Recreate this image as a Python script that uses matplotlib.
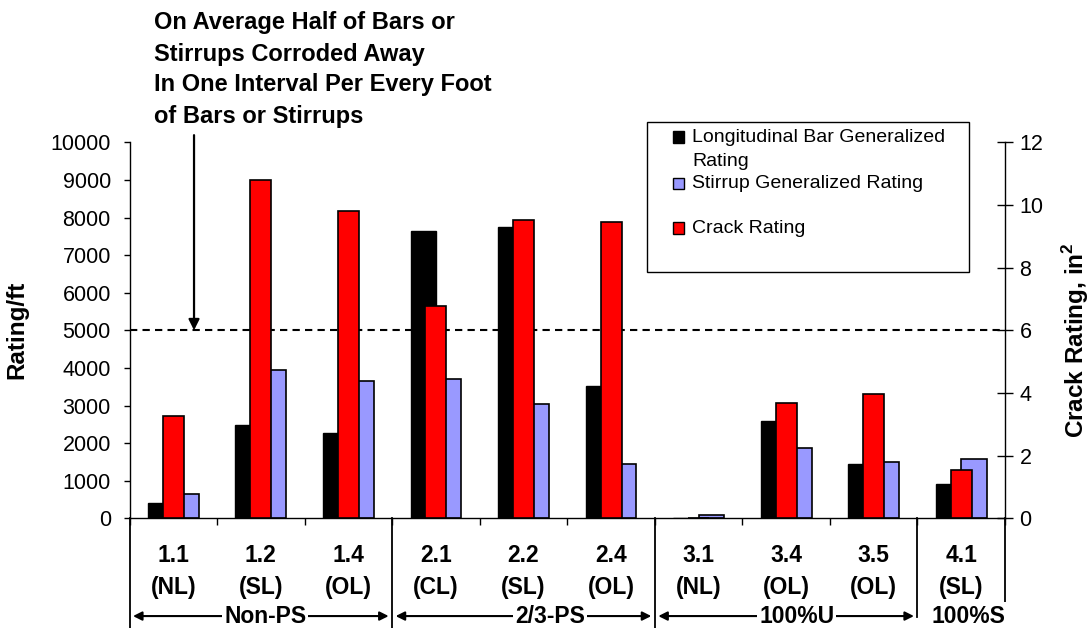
import matplotlib
matplotlib.use('Agg')
import matplotlib.pyplot as plt
import matplotlib.transforms as mtransforms
from matplotlib.patches import Rectangle
import numpy as np

plt.rcParams['font.family'] = ['Liberation Sans', 'DejaVu Sans']
plt.rcParams['mathtext.fontset'] = 'custom'
plt.rcParams['mathtext.rm'] = 'Liberation Sans'
plt.rcParams['mathtext.bf'] = 'Liberation Sans:bold'

# specimens and their loading type
specimens = ['1.1', '1.2', '1.4', '2.1', '2.2', '2.4', '3.1', '3.4', '3.5', '4.1']
loading = ['(NL)', '(SL)', '(OL)', '(CL)', '(SL)', '(OL)', '(NL)', '(OL)', '(OL)', '(SL)']

# generalized ratings per foot (left axis) and crack rating in in^2 (right axis)
long_bar = [400, 2480, 2280, 7630, 7740, 3520, 0, 2580, 1450, 900]
stirrup = [650, 3950, 3660, 3710, 3030, 1440, 100, 1880, 1490, 1590]
crack = [3.26, 10.81, 9.80, 6.78, 9.51, 9.45, 0, 3.68, 3.98, 1.55]

# specimen groups: name, first and last boundary, label position
groups = ['Non-PS', '2/3-PS', '100%U', '100%S']
group_start = [0, 3, 6, 9]
group_end = [3, 6, 9, 10]
group_label_x = [1.55, 4.80, 7.62, 9.58]

threshold = 5000

W, H = 1092, 628
fig = plt.figure(figsize=(W / 100, H / 100), dpi=100)
ax = fig.add_axes([129.5 / W, (H - 518.3) / H, (1005 - 129.5) / W, (518.3 - 142.3) / H])
ax2 = ax.twinx()

x = np.arange(len(specimens)) + 0.5
w = 0.29
ax.bar(x - w, long_bar, w, align='edge', color='black', edgecolor='black', linewidth=1, zorder=2)
ax.bar(x, stirrup, w, align='edge', color='#9999FF', edgecolor='black', linewidth=1.2, zorder=2)
ax2.bar(x, crack, 0.24, color='#FF0000', edgecolor='black', linewidth=1.2, zorder=2)

ax.set_xlim(0, 10)
ax.set_ylim(0, 10000)
ax2.set_ylim(0, 12)
ax.set_yticks(np.arange(0, 10001, 1000))
ax2.set_yticks(np.arange(0, 13, 2))

ax.spines['top'].set_visible(False)
ax.spines['right'].set_visible(False)
for s in ['top', 'left', 'bottom']:
    ax2.spines[s].set_visible(False)
for a in (ax, ax2):
    for sp in a.spines.values():
        sp.set_linewidth(1)
        sp.set_color('black')

ax.tick_params(axis='y', direction='out', length=4.5, width=1, labelsize=15.5, pad=9)
ax2.tick_params(axis='y', direction='inout', length=11, width=1, labelsize=15.5, pad=5)
ax.set_xticks(np.arange(11))
ax.tick_params(axis='x', direction='out', length=5, width=1, labelbottom=False)

ax.set_ylabel('Rating/ft', fontsize=17.5, fontweight='bold')
ax.yaxis.set_label_coords(-0.116, 0.5)
ax2.set_ylabel(r'Crack Rating, in$^{\mathbf{2}}$', fontsize=17.5, fontweight='bold')
ax2.yaxis.set_label_coords(1.063, 0.474)

# dashed threshold line and the arrow pointing at it
ax.axhline(threshold, color='black', linestyle=(0, (3.5, 2.5)), linewidth=1.5, zorder=3)
ax.annotate('', xy=(0.737, threshold), xytext=(0.737, 10190), annotation_clip=False,
            arrowprops=dict(arrowstyle='-|>', color='black', lw=1.6, mutation_scale=16,
                            shrinkA=0, shrinkB=0))
note = ['On Average Half of Bars or', 'Stirrups Corroded Away',
        'In One Interval Per Every Foot', 'of Bars or Stirrups']
for i, line in enumerate(note):
    fig.text(154 / W, 1 - (23 + 31 * i) / H, line, fontsize=17, fontweight='bold',
             ha='left', va='center')

# category table below the axis
trans = mtransforms.blended_transform_factory(ax.transData, ax.transAxes)
sep_x = [0, 3, 6, 9, 10]
sep_bottom = [-0.30, -0.30, -0.30, -0.262, -0.222]
for sx, sb in zip(sep_x, sep_bottom):
    ax.plot([sx, sx], [0, sb], color='black', lw=1.3, transform=trans, clip_on=False)

for xi, spec, ld in zip(x, specimens, loading):
    ax.text(xi, -0.098, spec, transform=trans, ha='center', va='center',
            fontsize=16.5, fontweight='bold')
    ax.text(xi, -0.183, ld, transform=trans, ha='center', va='center',
            fontsize=16.5, fontweight='bold')

for name, g0, g1, gx in zip(groups, group_start, group_end, group_label_x):
    if g1 - g0 > 1:
        ax.annotate('', xy=(g0 + 0.04, -0.26), xytext=(g1 - 0.04, -0.26),
                    xycoords=trans, textcoords=trans, annotation_clip=False,
                    arrowprops=dict(arrowstyle='<|-|>', color='black', lw=1.5,
                                    mutation_scale=13, shrinkA=0, shrinkB=0))
    ax.text(gx, -0.26, name, transform=trans, ha='center', va='center',
            fontsize=16.5, fontweight='bold',
            bbox=dict(facecolor='white', edgecolor='none', pad=1.5))

# legend box
fig.patches.append(Rectangle((647 / W, 1 - 272 / H), 322 / W, 150 / H, transform=fig.transFigure,
                             facecolor='white', edgecolor='black', linewidth=1, zorder=5))
legend_colors = ['black', '#9999FF', '#FF0000']
legend_labels = [['Longitudinal Bar Generalized', 'Rating'], ['Stirrup Generalized Rating'],
                 ['Crack Rating']]
legend_y = [137, 183.5, 228]
for c, lab, ly in zip(legend_colors, legend_labels, legend_y):
    fig.patches.append(Rectangle((673 / W, 1 - (ly + 5.5) / H), 11 / W, 11 / H,
                                 transform=fig.transFigure, facecolor=c, edgecolor='black',
                                 linewidth=1, zorder=6))
    for j, part in enumerate(lab):
        fig.text(692 / W, 1 - (ly + 4.5 + 25 * j) / H, part, fontsize=14, ha='left',
                 va='baseline', zorder=6)

fig.savefig('out.png', dpi=100)
